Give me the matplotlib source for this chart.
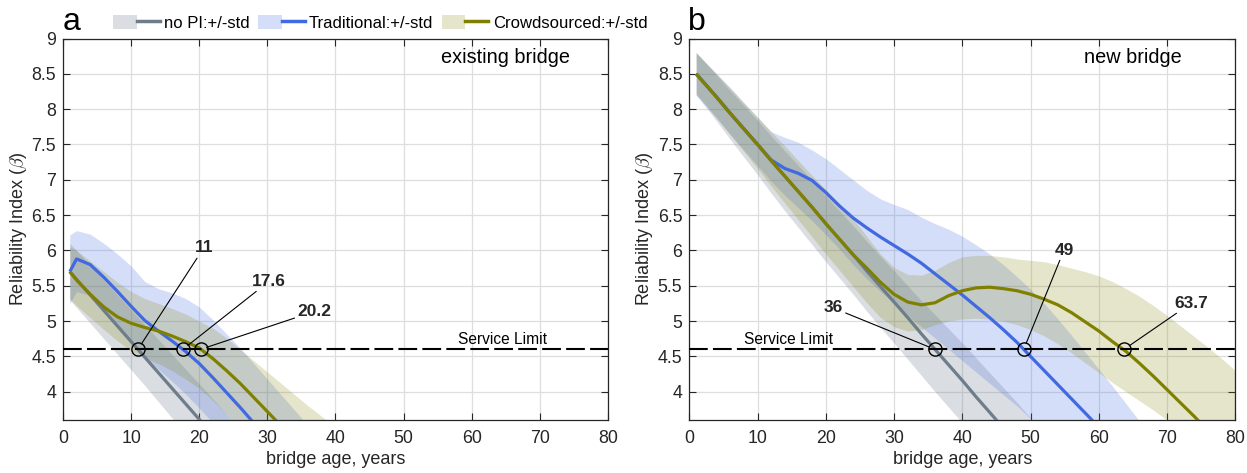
import matplotlib
matplotlib.use("Agg")
import matplotlib.pyplot as plt
from matplotlib.patches import Patch
from matplotlib.lines import Line2D
from matplotlib.legend_handler import HandlerTuple

plt.rcParams['font.family'] = ['Liberation Sans', 'DejaVu Sans']
plt.rcParams['mathtext.fontset'] = 'cm'

#---------- data : panel a (existing bridge) ----------
age_a = [1, 2, 4, 6, 8, 10, 12, 14, 16, 18, 20, 22, 24, 26, 28, 30, 32, 34, 36, 38, 40]

nopi_a = [5.70, 5.59, 5.37, 5.15, 4.93, 4.71, 4.49, 4.27, 4.05, 3.83, 3.61, 3.39, 3.17, 2.95, 2.73, 2.51]
nopi_a_lo = [5.30, 5.19, 4.97, 4.75, 4.53, 4.31, 4.09, 3.86, 3.63, 3.40, 3.17, 2.94, 2.71, 2.48, 2.25, 2.02]
nopi_a_hi = [6.10, 6.00, 5.79, 5.58, 5.37, 5.16, 4.95, 4.74, 4.53, 4.32, 4.11, 3.90, 3.68, 3.46, 3.24, 3.02]

trad_a = [5.70, 5.88, 5.80, 5.62, 5.42, 5.21, 5.01, 4.86, 4.72, 4.57, 4.40, 4.20, 3.99, 3.78, 3.56, 3.34,
          3.12, 2.90, 2.68]
trad_a_lo = [5.25, 5.42, 5.36, 5.16, 4.94, 4.72, 4.50, 4.32, 4.15, 3.97, 3.77, 3.56, 3.35, 3.14, 2.92, 2.70,
             2.48, 2.26, 2.04]
trad_a_hi = [6.22, 6.28, 6.23, 6.10, 5.95, 5.78, 5.56, 5.46, 5.40, 5.32, 5.20, 5.02, 4.82, 4.62, 4.40, 4.18,
             3.96, 3.74, 3.52]

crowd_a = [5.70, 5.58, 5.38, 5.20, 5.06, 4.97, 4.91, 4.86, 4.79, 4.71, 4.62, 4.47, 4.30, 4.12, 3.92, 3.72,
           3.52, 3.32, 3.12, 2.92, 2.72]
crowd_a_lo = [5.32, 5.22, 5.05, 4.88, 4.72, 4.58, 4.48, 4.40, 4.30, 4.18, 4.05, 3.88, 3.68, 3.48, 3.26, 3.04,
              2.82, 2.60, 2.38, 2.16, 1.94]
crowd_a_hi = [6.05, 6.00, 5.85, 5.70, 5.55, 5.42, 5.32, 5.25, 5.18, 5.10, 5.00, 4.90, 4.76, 4.60, 4.44, 4.28,
              4.12, 3.96, 3.80, 3.65, 3.50]

#---------- data : panel b (new bridge) ----------
age_b = [1, 2, 4, 6, 8, 10, 12, 14, 16, 18, 20, 22, 24, 26, 28, 30, 32, 34, 36, 38, 40,
         42, 44, 46, 48, 50, 52, 54, 56, 58, 60, 62, 64, 66, 68, 70, 72, 74, 76, 78, 80]

nopi_b = [8.50, 8.39, 8.17, 7.94, 7.72, 7.50, 7.27, 7.05, 6.83, 6.61, 6.38, 6.16, 5.94, 5.71, 5.49, 5.27,
          5.05, 4.82, 4.60, 4.38, 4.16, 3.93, 3.71, 3.49, 3.27, 3.04, 2.82]
nopi_b_lo = [8.20, 8.08, 7.83, 7.57, 7.32, 7.07, 6.81, 6.56, 6.32, 6.08, 5.84, 5.61, 5.38, 5.14, 4.91, 4.69,
             4.46, 4.23, 4.00, 3.78, 3.56, 3.33, 3.11, 2.89, 2.67, 2.44, 2.22]
nopi_b_hi = [8.80, 8.69, 8.48, 8.26, 8.05, 7.84, 7.62, 7.41, 7.20, 6.99, 6.77, 6.56, 6.35, 6.13, 5.92, 5.71,
             5.50, 5.29, 5.09, 4.89, 4.69, 4.48, 4.27, 4.06, 3.85, 3.63, 3.42]

trad_b = [8.50, 8.39, 8.17, 7.94, 7.72, 7.50, 7.28, 7.16, 7.09, 6.99, 6.82, 6.63, 6.46, 6.32, 6.19, 6.07,
          5.95, 5.82, 5.67, 5.52, 5.37, 5.21, 5.05, 4.88, 4.70, 4.50, 4.30, 4.10, 3.90, 3.70, 3.50, 3.30,
          3.10, 2.90]
trad_b_lo = [8.20, 8.09, 7.87, 7.64, 7.42, 7.20, 6.98, 6.78, 6.60, 6.42, 6.22, 6.02, 5.80, 5.60, 5.42, 5.25,
             5.08, 4.92, 4.76, 4.60, 4.44, 4.28, 4.12, 3.96, 3.80, 3.62, 3.44, 3.26, 3.08, 2.90, 2.72, 2.54,
             2.36, 2.18]
trad_b_hi = [8.80, 8.70, 8.50, 8.30, 8.09, 7.88, 7.68, 7.60, 7.53, 7.42, 7.30, 7.15, 7.00, 6.85, 6.73, 6.65,
             6.58, 6.47, 6.38, 6.30, 6.20, 6.08, 5.95, 5.80, 5.63, 5.45, 5.25, 5.03, 4.80, 4.56, 4.32, 4.08,
             3.83, 3.58]

crowd_b = [8.50, 8.39, 8.17, 7.94, 7.72, 7.50, 7.27, 7.05, 6.83, 6.61, 6.38, 6.16, 5.94, 5.75, 5.55, 5.38,
           5.27, 5.23, 5.26, 5.36, 5.43, 5.47, 5.48, 5.46, 5.43, 5.38, 5.31, 5.23, 5.12, 4.99, 4.86, 4.71,
           4.57, 4.40, 4.22, 4.03, 3.84, 3.65, 3.45, 3.25, 3.05]
crowd_b_lo = [8.22, 8.11, 7.88, 7.64, 7.40, 7.16, 6.91, 6.67, 6.43, 6.19, 5.95, 5.72, 5.49, 5.26, 5.05, 4.92,
              4.86, 4.88, 4.95, 5.00, 5.03, 5.04, 5.03, 5.00, 4.95, 4.88, 4.79, 4.68, 4.55, 4.41, 4.27, 4.13,
              4.00, 3.87, 3.74, 3.60, 3.47, 3.34, 3.20, 3.07, 2.94]
crowd_b_hi = [8.80, 8.70, 8.50, 8.30, 8.09, 7.89, 7.68, 7.48, 7.27, 7.06, 6.86, 6.66, 6.45, 6.20, 5.95, 5.76,
              5.66, 5.65, 5.72, 5.83, 5.91, 5.93, 5.93, 5.91, 5.88, 5.86, 5.84, 5.80, 5.75, 5.70, 5.64, 5.56,
              5.46, 5.35, 5.22, 5.08, 4.93, 4.78, 4.63, 4.47, 4.30]

#---------- service limit crossings ----------
service_limit = 4.6
cross_a = [11, 17.6, 20.2]
cross_b = [36, 49, 63.7]
cross_a_labels = ['11', '17.6', '20.2']
cross_b_labels = ['36', '49', '63.7']

series_labels = ['no PI:+/-std', 'Traditional:+/-std', 'Crowdsourced:+/-std']
colors = ['#6e7d8c', '#4169e1', '#808000']
band_alpha = [0.25, 0.22, 0.2]
TXT = '#262626'


def draw_panel(ax, age, series, crossings, labels, label_pos, label_align, title, limit_x):
    # bands first, lines on top
    for (m, lo, hi), c, a in zip(series, colors, band_alpha):
        ax.fill_between(age[:len(lo)], lo, hi, color=c, alpha=a, lw=0, zorder=2)
    for (m, lo, hi), c in zip(series, colors):
        ax.plot(age[:len(m)], m, color=c, lw=2.3, zorder=4, solid_capstyle='butt')

    # service limit
    ax.axhline(service_limit, color='black', lw=1.5, dashes=(9, 2.5), zorder=5)
    ax.text(limit_x, service_limit + 0.03, 'Service Limit', ha='center', va='bottom',
            fontsize=11.2, zorder=6)

    # crossing circles + labels
    ax.plot(crossings, [service_limit] * len(crossings), 'o', ms=9.5, mfc='none',
            mec='black', mew=1.0, zorder=6)
    for xc, lab, pos, ha in zip(crossings, labels, label_pos, label_align):
        ax.annotate(lab, xy=(xc, service_limit), xytext=pos, ha=ha, va='bottom',
                    fontsize=12.5, fontweight='bold', color=TXT, zorder=7,
                    arrowprops=dict(arrowstyle='-', color='black', lw=0.8,
                                    shrinkA=0, shrinkB=4.5))

    ax.text(65, 8.73, title, ha='center', va='center', fontsize=14.3)

    ax.set_xlim(0, 80)
    ax.set_ylim(3.6, 9)
    ax.set_xticks(range(0, 81, 10))
    ax.set_yticks([4, 4.5, 5, 5.5, 6, 6.5, 7, 7.5, 8, 8.5, 9])
    ax.set_yticklabels(['4', '4.5', '5', '5.5', '6', '6.5', '7', '7.5', '8', '8.5', '9'])
    ax.grid(True, color='#dedede', lw=0.9)
    ax.set_axisbelow(True)
    ax.tick_params(direction='in', top=True, right=True, length=5, width=0.8,
                   labelsize=12.8, colors=TXT, pad=5)
    ax.tick_params(axis='x', pad=7)
    for sp in ax.spines.values():
        sp.set_color(TXT)
        sp.set_linewidth(0.9)
    ax.set_xlabel('bridge age, years', fontsize=13, color=TXT, labelpad=3)
    ax.set_ylabel(r'Reliability Index ($\beta$)', fontsize=13, color=TXT)
    ax.yaxis.set_label_coords(-0.062, 0.5)


fig = plt.figure(figsize=(12.47, 4.73), dpi=100)
ax_a = fig.add_axes([0.0505, 0.112, 0.437, 0.8066])
ax_b = fig.add_axes([0.5528, 0.112, 0.4378, 0.8066])

series_a = [(nopi_a, nopi_a_lo, nopi_a_hi), (trad_a, trad_a_lo, trad_a_hi), (crowd_a, crowd_a_lo, crowd_a_hi)]
series_b = [(nopi_b, nopi_b_lo, nopi_b_hi), (trad_b, trad_b_lo, trad_b_hi), (crowd_b, crowd_b_lo, crowd_b_hi)]

draw_panel(ax_a, age_a, series_a, cross_a, cross_a_labels,
           [(19.3, 5.93), (27.8, 5.46), (34.4, 5.03)], ['left', 'left', 'left'],
           'existing bridge', 64.5)
draw_panel(ax_b, age_b, series_b, cross_b, cross_b_labels,
           [(22.5, 5.08), (54.9, 5.9), (71.1, 5.15)], ['right', 'center', 'left'],
           'new bridge', 14.6)

# panel letters
fig.text(0.050, 0.953, 'a', fontsize=23, va='center', ha='left')
fig.text(0.552, 0.953, 'b', fontsize=23, va='center', ha='left')

# legend above panel a
handles = [(Patch(facecolor=c, alpha=a, edgecolor='none'), Line2D([0], [0], color=c, lw=2.5))
           for c, a in zip(colors, band_alpha)]
fig.legend(handles, series_labels, loc='center left', bbox_to_anchor=(0.091, 0.952), ncol=3,
           frameon=False, fontsize=12, handlelength=2.8, handleheight=0.9,
           handletextpad=0.25, columnspacing=0.5, borderpad=0, borderaxespad=0,
           handler_map={tuple: HandlerTuple(ndivide=None, pad=0)})

fig.savefig('out.png', dpi=100)
